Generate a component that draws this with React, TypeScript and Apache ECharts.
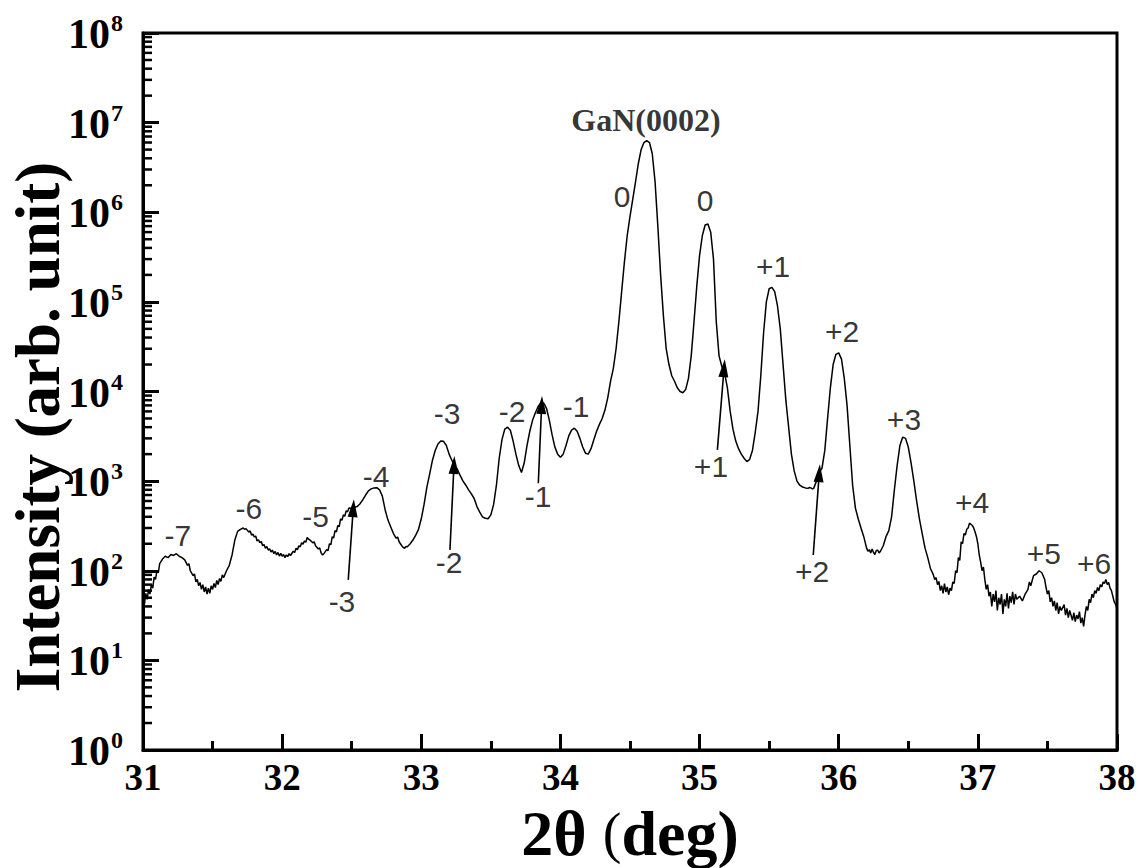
import React, { useEffect, useRef } from "react";
import * as echarts from "echarts";

// 2θ (deg) vs intensity (arb. unit)
const scan: [number, number][] = [
  [31.0, 50], [31.01, 42], [31.02, 56], [31.03, 48], [31.04, 62], [31.05, 55], [31.06, 70], [31.07, 64],
  [31.08, 85], [31.09, 80], [31.1, 100], [31.11, 95], [31.12, 120], [31.14, 135], [31.16, 145], [31.18, 140],
  [31.2, 152], [31.22, 148], [31.24, 155], [31.26, 145], [31.28, 140], [31.3, 132], [31.32, 115], [31.33, 120],
  [31.34, 100], [31.36, 88], [31.37, 92], [31.38, 75], [31.39, 80], [31.4, 68], [31.41, 74], [31.42, 62],
  [31.43, 70], [31.44, 58], [31.45, 66], [31.46, 55], [31.47, 64], [31.48, 56], [31.49, 68], [31.5, 62],
  [31.51, 72], [31.52, 65], [31.53, 78], [31.54, 70], [31.55, 82], [31.56, 76], [31.57, 90], [31.58, 84],
  [31.6, 100], [31.62, 115], [31.64, 150], [31.66, 220], [31.68, 275], [31.7, 290], [31.72, 300], [31.73, 290],
  [31.74, 295], [31.76, 270], [31.77, 278], [31.78, 250], [31.79, 256], [31.8, 238], [31.81, 244], [31.82, 215],
  [31.83, 222], [31.84, 205], [31.85, 212], [31.86, 190], [31.87, 196], [31.88, 178], [31.89, 186], [31.9, 170],
  [31.91, 176], [31.92, 162], [31.93, 170], [31.94, 155], [31.95, 164], [31.96, 150], [31.97, 160], [31.98, 146],
  [31.99, 156], [32.0, 145], [32.01, 152], [32.02, 140], [32.03, 150], [32.04, 144], [32.05, 155], [32.06, 148],
  [32.08, 165], [32.09, 160], [32.1, 178], [32.11, 172], [32.12, 190], [32.13, 185], [32.14, 205], [32.15, 198],
  [32.16, 215], [32.17, 208], [32.18, 235], [32.19, 225], [32.2, 220], [32.22, 205], [32.23, 210], [32.24, 190],
  [32.26, 175], [32.27, 180], [32.28, 158], [32.29, 150], [32.3, 155], [32.32, 172], [32.33, 168], [32.34, 200],
  [32.35, 195], [32.36, 240], [32.37, 232], [32.38, 280], [32.39, 272], [32.4, 320], [32.41, 310], [32.42, 380],
  [32.43, 365], [32.44, 420], [32.45, 405], [32.46, 465], [32.47, 455], [32.48, 500], [32.5, 495], [32.52, 510],
  [32.54, 520], [32.56, 560], [32.58, 620], [32.6, 700], [32.62, 780], [32.64, 820], [32.66, 840], [32.68, 845],
  [32.7, 800], [32.72, 680], [32.74, 480], [32.76, 370], [32.78, 310], [32.8, 260], [32.82, 230], [32.83, 238],
  [32.84, 212], [32.85, 200], [32.86, 190], [32.87, 182], [32.88, 178], [32.89, 186], [32.9, 185], [32.92, 200],
  [32.94, 220], [32.96, 250], [32.98, 290], [33.0, 380], [33.02, 550], [33.04, 850], [33.06, 1200], [33.08, 1700],
  [33.1, 2200], [33.12, 2600], [33.14, 2800], [33.16, 2780], [33.18, 2500], [33.2, 2000], [33.22, 1700], [33.24, 1500],
  [33.26, 1350], [33.28, 1150], [33.3, 1000], [33.32, 900], [33.34, 800], [33.36, 720], [33.38, 640], [33.4, 520],
  [33.42, 450], [33.44, 400], [33.46, 385], [33.48, 380], [33.5, 420], [33.52, 550], [33.54, 900], [33.56, 1800],
  [33.58, 2900], [33.6, 3800], [33.62, 4000], [33.64, 3700], [33.66, 2800], [33.68, 2000], [33.7, 1500], [33.72, 1250],
  [33.74, 1600], [33.76, 2500], [33.78, 3600], [33.8, 4800], [33.82, 5800], [33.84, 6800], [33.86, 7500], [33.88, 7400],
  [33.9, 6500], [33.92, 4800], [33.94, 3300], [33.96, 2400], [33.98, 2000], [34.0, 1850], [34.02, 2000], [34.04, 2500],
  [34.06, 3200], [34.08, 3700], [34.1, 3900], [34.12, 3600], [34.14, 3000], [34.16, 2400], [34.18, 2050], [34.2, 2000],
  [34.22, 2300], [34.24, 2900], [34.26, 3600], [34.28, 4300], [34.3, 5000], [34.32, 6200], [34.34, 8500], [34.36, 13000],
  [34.38, 18000], [34.4, 30000], [34.42, 60000], [34.44, 130000], [34.46, 280000], [34.48, 550000], [34.5, 900000],
  [34.52, 1400000], [34.54, 2200000], [34.56, 3500000], [34.58, 5000000], [34.6, 6000000], [34.62, 6300000],
  [34.64, 6000000], [34.66, 4500000], [34.68, 2200000], [34.7, 700000], [34.72, 200000], [34.74, 70000],
  [34.76, 30000], [34.78, 20000], [34.8, 15000], [34.82, 13000], [34.84, 11000], [34.86, 10000], [34.88, 9700],
  [34.9, 10500], [34.92, 14000], [34.94, 25000], [34.96, 60000], [34.98, 150000], [35.0, 330000], [35.02, 550000],
  [35.04, 720000], [35.06, 740000], [35.08, 600000], [35.1, 300000], [35.12, 60000], [35.14, 25000], [35.16, 19000],
  [35.18, 16000], [35.2, 11000], [35.22, 6000], [35.24, 3800], [35.26, 2800], [35.28, 2300], [35.3, 2000],
  [35.32, 1800], [35.34, 1650], [35.36, 1750], [35.38, 2200], [35.4, 3500], [35.42, 6000], [35.44, 15000],
  [35.46, 45000], [35.48, 100000], [35.5, 140000], [35.52, 145000], [35.54, 130000], [35.56, 90000], [35.58, 50000],
  [35.6, 20000], [35.62, 8000], [35.64, 4000], [35.66, 2000], [35.68, 1300], [35.7, 1000], [35.72, 900], [35.74, 860],
  [35.76, 840], [35.78, 830], [35.79, 850], [35.8, 840], [35.81, 820], [35.82, 830], [35.84, 1000], [35.86, 1250],
  [35.88, 1400], [35.9, 2200], [35.92, 5000], [35.94, 11000], [35.96, 20000], [35.98, 26000], [36.0, 27000],
  [36.02, 23000], [36.04, 14000], [36.06, 7000], [36.08, 2500], [36.1, 900], [36.12, 500], [36.14, 380], [36.16, 300],
  [36.18, 240], [36.2, 180], [36.21, 165], [36.22, 172], [36.23, 158], [36.24, 175], [36.25, 160], [36.26, 152],
  [36.27, 168], [36.28, 170], [36.29, 158], [36.3, 165], [36.32, 190], [36.34, 240], [36.36, 280], [36.38, 400],
  [36.4, 800], [36.42, 1500], [36.44, 2500], [36.46, 3100], [36.48, 3000], [36.5, 2400], [36.52, 1600], [36.54, 1000],
  [36.56, 600], [36.58, 380], [36.6, 260], [36.62, 180], [36.64, 140], [36.66, 105], [36.67, 98], [36.68, 90],
  [36.69, 80], [36.7, 84], [36.71, 70], [36.72, 76], [36.73, 60], [36.74, 68], [36.75, 56], [36.76, 72], [36.77, 58],
  [36.78, 66], [36.79, 54], [36.8, 64], [36.81, 60], [36.82, 75], [36.83, 72], [36.84, 100], [36.85, 95], [36.86, 140],
  [36.87, 130], [36.88, 210], [36.89, 200], [36.9, 260], [36.91, 250], [36.92, 290], [36.93, 300], [36.94, 340],
  [36.95, 330], [36.96, 320], [36.97, 300], [36.98, 270], [36.99, 240], [37.0, 200], [37.01, 150], [37.02, 125],
  [37.03, 100], [37.04, 110], [37.05, 80], [37.06, 62], [37.07, 70], [37.08, 52], [37.09, 58], [37.1, 40], [37.11, 55],
  [37.12, 45], [37.13, 60], [37.14, 36], [37.15, 50], [37.16, 42], [37.17, 55], [37.18, 33], [37.19, 48], [37.2, 40],
  [37.21, 56], [37.22, 38], [37.23, 52], [37.24, 44], [37.25, 58], [37.26, 42], [37.27, 55], [37.28, 48], [37.3, 52],
  [37.32, 46], [37.34, 55], [37.36, 62], [37.37, 75], [37.38, 68], [37.4, 88], [37.42, 92], [37.44, 100], [37.46, 95],
  [37.48, 80], [37.49, 65], [37.5, 55], [37.51, 60], [37.52, 45], [37.53, 50], [37.54, 40], [37.55, 46], [37.56, 36],
  [37.57, 44], [37.58, 33], [37.59, 40], [37.6, 36], [37.62, 42], [37.63, 32], [37.64, 38], [37.65, 30], [37.66, 36],
  [37.68, 28], [37.69, 34], [37.7, 27], [37.71, 32], [37.72, 29], [37.73, 35], [37.74, 26], [37.75, 30], [37.76, 24],
  [37.77, 32], [37.78, 40], [37.79, 36], [37.8, 48], [37.81, 44], [37.82, 55], [37.83, 50], [37.84, 60], [37.85, 56],
  [37.86, 65], [37.87, 60], [37.88, 70], [37.89, 66], [37.9, 75], [37.91, 72], [37.92, 80], [37.93, 70], [37.94, 74],
  [37.95, 64], [37.96, 60], [37.97, 52], [37.98, 45], [37.99, 42], [38.0, 38],
];

// satellite peak labels [name, 2θ, intensity]
const peakLabels: [string, number, number][] = [
  ["-7", 31.25, 245], ["-6", 31.76, 490], ["-5", 32.24, 400], ["-4", 32.675, 1114],
  ["-3", 33.185, 5620], ["-2", 33.652, 6050], ["-1", 34.112, 6730], ["0", 34.443, 1.49e6],
  ["0", 35.039, 1.34e6], ["+1", 35.528, 2.46e5], ["+2", 36.024, 46200], ["+3", 36.469, 4820],
  ["+4", 36.958, 571], ["+5", 37.475, 154], ["+6", 37.835, 122],
];
// labels at the tails of the arrows
const arrowLabels: [string, number, number][] = [
  ["-3", 32.43, 45], ["-2", 33.2, 125], ["-1", 33.839, 667], ["+1", 35.082, 1440], ["+2", 35.808, 97],
];
// arrows: [tail 2θ, tail I, head 2θ, head I]
const arrows: [number, number, number, number][] = [
  [32.475, 79, 32.511, 499],
  [33.206, 171, 33.235, 1517],
  [33.841, 948, 33.865, 7080],
  [35.128, 2230, 35.176, 18200],
  [35.817, 150, 35.86, 1225],
];
const mainPeak: [string, number, number] = ["GaN(0002)", 34.615, 1.07e7];

const decades = [1, 10, 100, 1e3, 1e4, 1e5, 1e6, 1e7];
const mantissas = [2, 3, 4, 5, 6, 7, 8, 9];

const SERIF = '"Liberation Serif", "Times New Roman", serif';
const SANS = '"Liberation Sans", Arial, sans-serif';

export default function App() {
  const ref = useRef<HTMLDivElement>(null);
  useEffect(() => {
    document.body.style.margin = "0";
    const chart = echarts.init(ref.current!, null, { renderer: "svg" });
    const minorY: number[][] = [];
    decades.forEach((d) => mantissas.forEach((m) => minorY.push([31, m * d])));

    const option: any = {
      animation: false,
      grid: { left: 143, right: 28, top: 33, bottom: 118, show: true, borderColor: "#000", borderWidth: 3, backgroundColor: "transparent" },
      xAxis: {
        type: "value", min: 31, max: 38, interval: 1,
        axisLine: { show: true, lineStyle: { color: "#000", width: 3 } },
        axisTick: { show: true, inside: true, length: 16, lineStyle: { color: "#000", width: 3 } },
        minorTick: { show: true, splitNumber: 2, length: 9, lineStyle: { color: "#000", width: 3 } },
        splitLine: { show: false },
        axisLabel: { color: "#000", fontFamily: SERIF, fontWeight: "bold", fontSize: 37, lineHeight: 36, margin: 9 },
      },
      yAxis: {
        type: "log", logBase: 10, min: 1, max: 1e8, splitNumber: 8,
        axisLine: { show: true, lineStyle: { color: "#000", width: 3 } },
        axisTick: { show: true, inside: true, length: 16, lineStyle: { color: "#000", width: 3 } },
        splitLine: { show: false },
        axisLabel: {
          color: "#000", margin: 20,
          formatter: (v: number) => `{b|10}{s|${Math.round(Math.log10(v))}}`,
          rich: {
            b: { fontFamily: SERIF, fontWeight: "bold", fontSize: 42, color: "#000", lineHeight: 44, verticalAlign: "bottom" },
            s: { fontFamily: SERIF, fontWeight: "bold", fontSize: 24, color: "#000", lineHeight: 44, verticalAlign: "top", padding: [0, 0, 20, 1] },
          },
        },
      },
      graphic: [
        {
          type: "text", x: 38, y: 427, rotation: Math.PI / 2,
          style: { text: "Intensity (arb. unit)", fontFamily: SERIF, fontWeight: "bold", fontSize: 63, fill: "#000", align: "center", verticalAlign: "middle" },
        },
        {
          type: "text", x: 630, y: 833,
          style: {
            text: "{a|2θ }{p|(}{a|deg)}", align: "center", verticalAlign: "middle",
            rich: {
              a: { fontFamily: SERIF, fontWeight: "bold", fontSize: 64, lineHeight: 60, fill: "#000" },
              p: { fontFamily: SERIF, fontWeight: "normal", fontSize: 56, lineHeight: 60, fill: "#000" },
            },
          },
        },
      ],
      series: [
        {
          type: "line", data: scan, showSymbol: false, symbol: "none", silent: true,
          lineStyle: { color: "#000", width: 1.5 },
          markLine: {
            silent: true, animation: false,
            symbol: ["none", "triangle"], symbolSize: [10, 18],
            label: { show: false },
            lineStyle: { color: "#000", width: 1.6, type: "solid" },
            data: arrows.map((a) => [{ coord: [a[0], a[1]] }, { coord: [a[2], a[3]] }]),
          },
        },
        {
          type: "custom", silent: true, data: minorY, clip: false,
          renderItem: (params: any, api: any) => {
            const p = api.coord([api.value(0), api.value(1)]);
            return { type: "line", shape: { x1: p[0], y1: p[1], x2: p[0] + 9, y2: p[1] }, style: { stroke: "#000", lineWidth: 2.5 } };
          },
        },
        {
          type: "scatter", silent: true, symbolSize: 1, itemStyle: { color: "rgba(0,0,0,0)" },
          data: [...peakLabels, ...arrowLabels].map((l) => ({ name: l[0], value: [l[1], l[2]] })),
          label: { show: true, position: "inside", formatter: "{b}", color: "#000", textBorderWidth: 0, fontFamily: SANS, fontSize: 30 },
        },
        {
          type: "scatter", silent: true, symbolSize: 1, itemStyle: { color: "rgba(0,0,0,0)" },
          data: [{ name: mainPeak[0], value: [mainPeak[1], mainPeak[2]] }],
          label: { show: true, position: "inside", formatter: "{b}", color: "#000", textBorderWidth: 0, fontFamily: SERIF, fontWeight: "bold", fontSize: 32 },
        },
      ],
    };
    chart.setOption(option);
    return () => chart.dispose();
  }, []);
  return <div ref={ref} style={{ width: 1145, height: 868 }} />;
}
